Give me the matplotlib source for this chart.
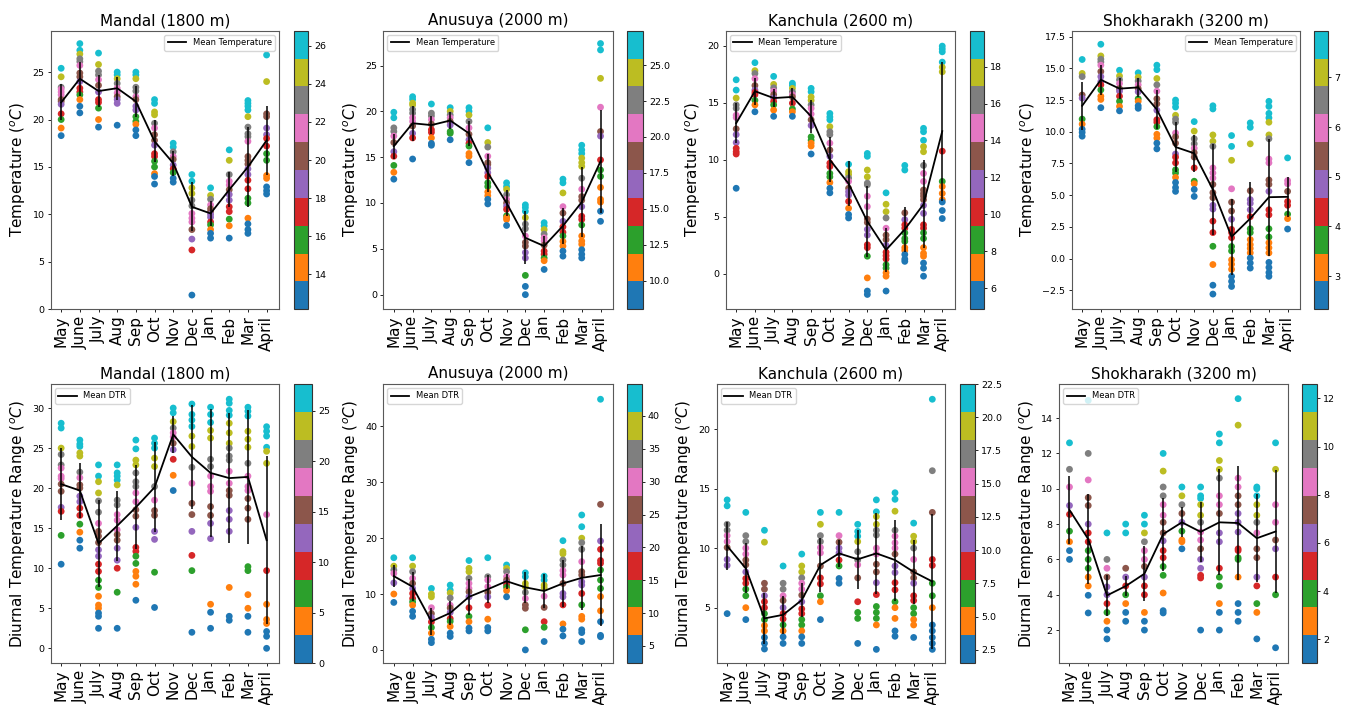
import numpy as np
import matplotlib
matplotlib.use('Agg')
import matplotlib.pyplot as plt
from matplotlib.ticker import MultipleLocator

# ---- data ----
months = ['May', 'June', 'July', 'Aug', 'Sep', 'Oct', 'Nov', 'Dec', 'Jan', 'Feb', 'Mar', 'April']

mandal_temp = [
    [25.4, 24.5, 23.4, 23.2, 22.9, 22.6, 22.1, 21.9, 21.6, 20.6, 20.0, 19.1, 18.3],
    [28.0, 27.3, 26.9, 26.4, 26.1, 25.7, 24.9, 24.5, 24.0, 23.3, 22.9, 22.6, 22.1, 21.4, 20.7],
    [27.0, 25.8, 25.1, 24.7, 24.2, 23.6, 22.9, 22.1, 21.8, 21.2, 20.0, 19.2],
    [25.0, 24.7, 24.3, 23.8, 23.3, 22.8, 22.4, 22.1, 21.7, 19.4],
    [25.0, 24.7, 24.3, 23.4, 23.0, 22.4, 22.1, 21.4, 21.0, 20.3, 19.8, 19.5, 18.9, 18.3],
    [22.1, 21.7, 20.8, 20.5, 19.6, 19.1, 18.4, 17.8, 17.3, 16.4, 16.1, 15.6, 15.0, 14.3, 14.0, 13.2],
    [17.5, 17.1, 16.6, 16.1, 15.8, 15.2, 14.8, 14.4, 13.8, 13.4],
    [14.2, 13.5, 12.8, 12.2, 11.5, 10.9, 10.1, 9.6, 9.2, 8.4, 7.4, 6.25, 1.5],
    [12.8, 12.0, 11.6, 11.0, 10.6, 10.3, 10.0, 9.7, 9.2, 8.9, 8.4, 8.0, 7.5],
    [16.8, 15.7, 14.2, 13.5, 13.1, 12.6, 12.1, 11.5, 10.8, 10.3, 9.5, 8.8, 7.5],
    [22.0, 21.7, 21.4, 21.0, 20.3, 19.2, 18.5, 18.2, 17.7, 16.1, 15.7, 15.3, 14.8, 14.2, 13.6,
     12.7, 11.7, 11.2, 9.6, 9.0, 8.4, 8.0],
    [26.8, 24.0, 20.6, 20.3, 19.1, 18.4, 18.0, 17.2, 16.4, 15.7, 14.1, 13.8, 12.9, 12.5, 12.15],
]
mandal_temp_mean = [21.8, 24.3, 23.0, 23.3, 21.9, 17.7, 15.4, 10.8, 10.1, 12.6, 15.0, 17.8]
mandal_temp_std = [1.9, 1.8, 1.65, 1.2, 1.6, 2.2, 1.3, 2.6, 1.3, 1.85, 4.2, 3.6]

anusuya_temp = [
    [19.9, 19.3, 18.2, 17.8, 17.3, 16.6, 15.6, 15.1, 14.1, 13.35, 12.6],
    [21.6, 21.3, 20.9, 20.7, 20.2, 19.8, 19.3, 18.9, 18.4, 17.6, 17.1, 14.8],
    [20.8, 19.8, 19.5, 19.1, 18.6, 18.0, 17.7, 17.1, 16.5, 16.3],
    [20.4, 20.0, 19.6, 19.3, 18.9, 18.5, 17.8, 17.6, 16.9],
    [20.4, 20.0, 19.6, 18.9, 18.2, 17.5, 16.9, 16.5, 16.2, 15.4, 15.1, 14.4],
    [18.2, 16.6, 16.1, 15.1, 14.4, 14.2, 13.8, 13.3, 12.9, 12.2, 11.8, 11.2, 10.8, 10.4, 9.9],
    [12.2, 11.8, 11.5, 10.9, 10.4, 10.0, 9.65, 9.3, 8.6, 8.4, 8.2, 7.55],
    [9.8, 9.5, 9.1, 8.4, 7.7, 7.2, 6.4, 5.7, 5.3, 4.6, 4.0, 2.1, 0.9, 0.0],
    [7.85, 7.5, 7.1, 6.6, 6.2, 5.85, 5.4, 4.75, 4.4, 4.0, 3.7, 2.75],
    [12.6, 12.2, 11.1, 9.6, 8.9, 8.0, 7.4, 6.8, 6.4, 5.8, 5.3, 4.75, 4.2],
    [16.3, 15.8, 15.4, 14.9, 14.4, 14.0, 12.7, 11.5, 10.7, 10.3, 9.6, 8.55, 8.2, 7.6, 6.4,
     5.85, 5.5, 4.9, 4.4, 4.0],
    [27.4, 26.7, 23.6, 20.45, 17.8, 17.3, 14.7, 13.6, 12.9, 11.7, 10.4, 10.1, 9.1, 8.0],
]
anusuya_temp_mean = [16.2, 18.7, 18.5, 19.0, 17.6, 13.3, 10.0, 6.2, 5.3, 7.5, 10.1, 14.55]
anusuya_temp_std = [1.35, 1.9, 1.0, 0.9, 1.35, 2.1, 1.45, 2.9, 1.1, 2.0, 3.8, 5.6]

kanchula_temp = [
    [17.0, 16.1, 15.4, 14.8, 14.5, 13.9, 13.7, 12.7, 12.2, 11.5, 11.0, 10.7, 10.5, 7.5],
    [18.5, 17.8, 17.55, 17.1, 16.5, 16.1, 15.9, 15.7, 15.2, 14.8, 14.2],
    [17.3, 16.6, 16.3, 16.0, 15.7, 15.4, 15.1, 14.8, 14.35, 13.8],
    [16.7, 16.5, 16.25, 15.95, 15.7, 15.5, 14.95, 14.45, 14.2, 13.8],
    [16.25, 15.95, 15.5, 15.2, 14.8, 14.5, 14.0, 13.5, 13.0, 12.0, 11.7, 11.45, 11.2, 10.5],
    [14.05, 13.75, 13.5, 12.9, 12.45, 12.2, 11.45, 10.85, 10.3, 9.7, 9.4, 8.8, 8.5, 8.0, 7.5, 7.1],
    [9.6, 8.95, 8.7, 8.4, 8.1, 7.5, 7.2, 6.9, 6.35, 5.75, 5.2, 4.9],
    [10.55, 10.3, 9.1, 8.5, 7.95, 7.8, 6.8, 5.9, 4.8, 4.5, 3.9, 3.4, 2.55, 2.3, 1.55, -0.35,
     -1.5, -1.8],
    [7.1, 6.1, 5.45, 4.9, 4.0, 3.4, 3.0, 2.5, 1.9, 1.6, 1.3, 0.8, 0.5, 0.1, -0.2, -1.5],
    [9.5, 9.1, 5.35, 4.75, 4.3, 4.0, 3.6, 3.1, 2.85, 2.3, 2.05, 1.7, 1.3, 1.1],
    [12.75, 12.45, 11.7, 11.15, 10.7, 9.5, 8.8, 8.1, 7.35, 7.05, 6.8, 6.5, 6.0, 5.3, 4.3, 4.0,
     3.6, 3.1, 2.3, 1.8, 1.55, 0.95, 0.5, -0.2],
    [19.95, 19.7, 19.45, 18.55, 18.1, 17.7, 10.75, 8.1, 7.65, 7.05, 6.5, 6.3, 5.55, 4.85],
]
kanchula_temp_mean = [13.2, 16.0, 15.4, 15.5, 13.8, 10.0, 7.9, 4.6, 2.1, 3.9, 6.1, 12.5]
kanchula_temp_std = [1.75, 1.2, 0.8, 0.75, 1.45, 1.95, 1.95, 3.1, 1.9, 2.0, 3.85, 6.1]

shokharakh_temp = [
    [15.7, 14.6, 14.35, 12.9, 12.65, 11.0, 10.6, 10.2, 9.95, 9.65],
    [16.9, 15.98, 15.72, 15.5, 15.25, 14.75, 14.35, 13.95, 13.7, 13.3, 12.8, 12.55, 11.9],
    [14.85, 14.4, 14.1, 13.8, 13.4, 13.2, 12.8, 12.4, 12.0, 11.65],
    [14.65, 14.3, 14.0, 13.7, 13.4, 13.15, 12.6, 12.4, 12.05, 11.85],
    [15.25, 14.9, 14.2, 13.7, 13.2, 12.6, 12.2, 11.7, 10.95, 10.75, 10.4, 9.8, 9.5, 9.1, 8.65],
    [12.5, 12.25, 11.95, 11.3, 11.0, 10.75, 9.9, 9.6, 9.1, 8.25, 8.0, 7.55, 7.0, 6.75, 6.4,
     6.0, 5.6, 5.3],
    [10.8, 10.05, 9.45, 9.05, 8.7, 8.35, 8.0, 7.15, 6.1, 5.9, 5.45, 4.9],
    [12.05, 11.8, 9.75, 9.25, 8.85, 7.15, 6.75, 6.35, 5.85, 5.2, 4.8, 4.2, 3.9, 2.95, 2.05,
     0.97, -0.47, -2.1, -2.8],
    [9.7, 8.85, 7.75, 5.5, 4.45, 3.75, 3.1, 2.3, 2.05, 1.65, 0.95, 0.6, -0.1, -0.45, -0.85,
     -1.4, -1.8, -2.2],
    [10.7, 10.35, 9.05, 5.35, 4.65, 4.35, 3.85, 3.3, 2.35, 2.05, 1.5, 1.1, 0.8, 0.45, 0.05,
     -0.35, -0.75],
    [12.4, 12.0, 11.45, 11.1, 10.75, 9.75, 9.45, 7.85, 7.55, 6.2, 5.85, 5.3, 3.85, 3.45, 2.35,
     1.7, 1.25, 0.85, 0.45, -0.3, -0.7, -1.1, -1.4],
    [7.94, 6.15, 5.9, 5.3, 4.5, 4.2, 3.5, 3.15, 2.33],
]
shokharakh_temp_mean = [12.05, 14.1, 13.4, 13.5, 11.75, 8.8, 8.3, 5.44, 1.72, 3.16, 4.84, 4.87]
shokharakh_temp_std = [1.9, 1.2, 0.85, 0.75, 1.55, 1.95, 1.45, 3.6, 3.0, 2.85, 4.6, 1.6]

mandal_dtr = [
    [28.1, 27.5, 25.0, 24.2, 22.9, 22.5, 21.5, 21.2, 20.5, 19.6, 17.6, 17.1, 14.1, 10.5],
    [26.0, 25.5, 25.2, 24.4, 24.0, 22.0, 21.3, 20.4, 20.0, 19.0, 18.3, 17.5, 16.6, 15.5, 14.5,
     13.5, 12.5],
    [22.9, 21.5, 20.8, 19.4, 18.4, 17.0, 15.6, 14.6, 14.0, 13.2, 12.3, 11.5, 10.5, 9.6, 8.5,
     7.6, 6.5, 5.4, 5.0, 4.4, 4.0, 2.5],
    [22.9, 21.9, 21.5, 21.0, 20.4, 18.5, 17.9, 16.7, 16.0, 14.8, 14.2, 13.5, 12.5, 11.0, 10.0,
     7.0, 2.5],
    [26.0, 24.9, 23.5, 22.9, 21.9, 20.8, 20.2, 19.4, 18.3, 17.3, 16.5, 15.1, 12.6, 12.1, 11.5,
     10.6, 9.6, 9.0, 8.0, 6.0],
    [26.25, 25.6, 25.0, 23.75, 22.7, 20.2, 18.5, 17.2, 16.6, 14.6, 13.6, 9.5, 5.1],
    [30.0, 29.4, 28.3, 27.5, 26.9, 26.4, 25.6, 24.8, 23.6, 21.6, 19.7],
    [30.5, 29.2, 28.5, 27.7, 26.5, 25.2, 22.6, 20.6, 18.1, 16.7, 14.6, 11.6, 9.7, 2.0],
    [30.1, 29.2, 28.2, 27.2, 26.25, 23.6, 22.7, 21.5, 20.2, 19.6, 17.7, 16.6, 15.6, 13.7, 5.5,
     4.5, 2.5],
    [31.1, 30.6, 29.7, 29.1, 28.1, 26.9, 25.6, 25.0, 24.0, 23.5, 22.1, 20.6, 19.7, 19.1, 17.2,
     16.1, 14.6, 7.6, 4.0, 3.5],
    [30.1, 29.6, 29.0, 27.1, 26.1, 25.1, 23.1, 21.5, 20.2, 19.7, 18.7, 17.5, 16.1, 10.2, 9.7,
     6.7, 5.0, 4.0, 2.0],
    [27.67, 27.1, 26.5, 25.1, 24.6, 23.1, 16.7, 9.7, 5.5, 3.6, 3.1, 2.1, 1.5, 0.0],
]
mandal_dtr_mean = [20.5, 19.7, 13.1, 15.3, 17.6, 20.1, 26.7, 23.9, 21.9, 21.25, 21.4, 13.5]
mandal_dtr_std = [4.5, 3.4, 5.45, 4.35, 5.25, 5.6, 2.3, 6.5, 8.0, 8.1, 8.35, 10.5]

anusuya_dtr = [
    [16.5, 15.0, 14.3, 13.7, 12.0, 10.0, 8.5],
    [16.5, 15.0, 14.0, 12.8, 11.9, 11.0, 10.1, 9.2, 8.6, 8.0, 6.9, 6.0],
    [11.0, 10.0, 9.5, 7.55, 6.5, 5.8, 5.0, 4.0, 3.0, 1.9, 1.3],
    [11.6, 10.7, 10.2, 9.3, 8.0, 7.5, 6.7, 5.6, 5.1, 4.2, 3.0, 2.4],
    [16.0, 14.6, 14.0, 12.8, 11.9, 11.0, 10.4, 9.5, 7.55, 6.0, 5.05, 3.9, 3.4],
    [16.5, 13.1, 12.5, 11.3, 10.3, 9.5, 8.0, 5.5, 4.0, 3.4],
    [15.2, 14.6, 14.0, 13.1, 12.5, 12.0, 11.6, 11.2, 10.6, 9.5],
    [13.8, 13.1, 11.9, 11.3, 10.3, 9.2, 8.05, 7.45, 3.6, 0.0],
    [13.2, 12.5, 11.6, 11.15, 9.6, 7.6, 5.05, 4.05, 1.5],
    [19.55, 17.6, 17.2, 16.1, 15.2, 14.2, 13.4, 11.9, 10.1, 9.5, 8.05, 4.65, 3.7, 2.5],
    [24.15, 22.05, 20.0, 19.2, 18.0, 15.8, 14.0, 13.4, 12.2, 11.6, 10.1, 8.05, 6.0, 5.5, 3.6,
     3.1, 1.5],
    [44.87, 26.05, 19.5, 18.0, 16.0, 15.5, 14.3, 12.5, 11.0, 9.55, 7.0, 5.05, 2.6, 2.36],
]
anusuya_dtr_mean = [13.2, 11.3, 5.1, 6.6, 9.5, 10.85, 12.3, 11.2, 10.55, 11.9, 12.9, 13.4]
anusuya_dtr_std = [2.0, 2.6, 2.45, 2.2, 3.2, 2.5, 1.35, 2.8, 3.0, 4.2, 5.7, 9.1]

kanchula_dtr = [
    [14.05, 13.55, 12.0, 11.5, 11.05, 10.55, 10.05, 9.05, 8.55, 4.5],
    [13.0, 11.05, 10.55, 10.0, 9.5, 9.0, 8.6, 8.0, 7.45, 7.05, 6.55, 6.0, 5.0, 4.0],
    [11.5, 10.5, 7.05, 6.55, 6.0, 5.5, 5.0, 4.5, 4.0, 3.5, 3.05, 2.5, 2.0, 1.53],
    [8.5, 7.05, 6.55, 6.0, 5.6, 5.0, 4.5, 4.05, 3.55, 3.05, 2.55, 2.0],
    [9.5, 8.5, 8.0, 7.5, 7.05, 6.55, 6.05, 5.5, 4.9, 4.5, 4.0, 3.55, 3.05, 2.55, 2.0],
    [13.0, 12.0, 11.05, 10.55, 10.05, 9.6, 8.5, 7.5, 7.0, 6.0, 5.5, 4.0],
    [13.0, 11.05, 10.5, 10.0, 9.6, 9.0, 8.5, 7.45, 7.05],
    [12.0, 11.4, 11.0, 10.55, 9.7, 9.0, 8.6, 7.5, 5.5, 4.6, 4.1, 2.0],
    [14.05, 13.05, 12.65, 12.0, 11.5, 11.1, 10.0, 9.5, 8.65, 8.0, 7.1, 6.1, 5.1, 4.6, 4.1,
     3.55, 1.5],
    [14.65, 14.1, 13.1, 11.5, 11.0, 10.45, 10.0, 9.5, 8.5, 7.95, 7.1, 6.5, 5.5, 5.0, 4.1,
     3.05, 2.6],
    [12.1, 11.0, 10.55, 10.0, 9.05, 8.0, 7.5, 7.05, 6.0, 5.6, 5.0, 4.5, 4.0, 3.55, 2.5],
    [22.5, 16.5, 13.0, 9.05, 8.55, 7.05, 6.0, 5.0, 3.55, 3.05, 2.5, 2.0, 1.5],
]
kanchula_dtr_mean = [10.18, 8.3, 4.1, 4.4, 5.64, 8.58, 9.56, 9.06, 9.56, 9.0, 8.0, 7.2]
kanchula_dtr_std = [2.0, 2.1, 2.17, 1.6, 1.43, 2.3, 1.12, 2.5, 3.4, 3.4, 2.7, 5.7]

shokharakh_dtr = [
    [12.6, 11.1, 10.1, 9.05, 8.55, 7.6, 7.0, 6.5, 6.0],
    [15.0, 12.0, 10.5, 9.5, 9.05, 8.0, 7.5, 7.0, 6.5, 6.0, 5.5, 5.0, 4.5, 3.97, 2.97],
    [7.5, 6.0, 5.5, 5.0, 4.45, 4.0, 3.5, 3.0, 2.5, 2.0, 1.5],
    [8.0, 7.5, 5.5, 5.0, 4.5, 4.0, 3.5, 3.0, 2.5],
    [8.5, 8.0, 7.5, 7.0, 6.5, 6.0, 5.6, 5.0, 4.5, 4.0, 3.0, 2.5, 2.0],
    [12.0, 11.0, 10.1, 9.6, 9.1, 8.5, 8.1, 7.5, 7.05, 6.5, 6.1, 5.6, 5.1, 4.1, 3.1, 2.97],
    [10.1, 9.6, 9.1, 8.6, 8.1, 7.6, 7.1, 7.0, 6.6],
    [10.1, 9.6, 9.45, 9.1, 8.5, 8.1, 7.55, 7.1, 6.6, 6.0, 5.5, 5.1, 4.95, 2.0],
    [13.1, 12.6, 11.6, 11.1, 10.6, 9.6, 9.1, 8.6, 7.5, 7.0, 5.5, 5.0, 4.5, 3.5, 3.0, 2.0],
    [15.1, 13.6, 10.6, 10.1, 9.6, 9.1, 8.6, 8.1, 7.55, 6.6, 6.5, 6.1, 6.0, 5.0, 3.5, 3.0, 2.5],
    [10.1, 10.0, 9.6, 9.1, 8.5, 8.1, 7.5, 6.6, 6.1, 5.0, 4.5, 3.5, 3.0, 1.5],
    [12.6, 11.1, 9.1, 8.1, 7.1, 6.6, 5.0, 4.0, 1.0],
]
shokharakh_dtr_mean = [8.8, 7.15, 3.96, 4.49, 5.19, 7.43, 8.1, 7.56, 8.1, 8.06, 7.2, 7.58]
shokharakh_dtr_std = [1.95, 2.55, 1.14, 0.57, 1.57, 2.06, 0.85, 1.7, 3.0, 3.23, 2.5, 3.5]

# ---- figure ----
W, H = 1346, 705
fig = plt.figure(figsize=(W / 100, H / 100), dpi=100)


def box(x0, x1, top, bot):
    # pixel box -> figure fraction
    return [x0 / W, 1 - bot / H, (x1 - x0) / W, (bot - top) / H]


TEMP_LBL = 'Temperature ($^oC$)'
DTR_LBL = 'Diurnal Temperature Range ($^oC$)'

panels = [
    # axes box, colorbar box, title, points, mean, std, ylabel, legend, loc, ylim, ystep, cbstep
    (box(50.7, 279.3, 30.7, 309.3), box(294, 308.3, 30.7, 309.3), 'Mandal (1800 m)',
     mandal_temp, mandal_temp_mean, mandal_temp_std, TEMP_LBL, 'Mean Temperature',
     'upper right', (0.0, 29.36), 5, 2),
    (box(383.3, 613.3, 30.7, 309.3), box(626.7, 642.7, 30.7, 309.3), 'Anusuya (2000 m)',
     anusuya_temp, anusuya_temp_mean, anusuya_temp_std, TEMP_LBL, 'Mean Temperature',
     'upper left', (-1.6, 28.8), 5, 2.5),
    (box(725.7, 955, 30.7, 309.3), box(970, 984, 30.7, 309.3), 'Kanchula (2600 m)',
     kanchula_temp, kanchula_temp_mean, kanchula_temp_std, TEMP_LBL, 'Mean Temperature',
     'upper left', (-3.1, 21.3), 5, 2),
    (box(1071.7, 1300.3, 30.7, 309.3), box(1314.3, 1328.3, 30.7, 309.3), 'Shokharakh (3200 m)',
     shokharakh_temp, shokharakh_temp_mean, shokharakh_temp_std, TEMP_LBL, 'Mean Temperature',
     'upper right', (-4.0, 17.97), 2.5, 1),
    (box(50.7, 279.3, 384, 663.3), box(294, 311.7, 384, 663.3), 'Mandal (1800 m)',
     mandal_dtr, mandal_dtr_mean, mandal_dtr_std, DTR_LBL, 'Mean DTR',
     'upper left', (-1.87, 33.0), 5, 5),
    (box(383.3, 613.3, 384, 663.3), box(627.3, 641.7, 384, 663.3), 'Anusuya (2000 m)',
     anusuya_dtr, anusuya_dtr_mean, anusuya_dtr_std, DTR_LBL, 'Mean DTR',
     'upper left', (-2.4, 47.6), 10, 5),
    (box(716.7, 945, 384, 663.3), box(960, 975, 384, 663.3), 'Kanchula (2600 m)',
     kanchula_dtr, kanchula_dtr_mean, kanchula_dtr_std, DTR_LBL, 'Mean DTR',
     'upper left', (0.33, 23.78), 5, 2.5),
    (box(1059, 1288.3, 384, 663.3), box(1302.3, 1316.7, 384, 663.3), 'Shokharakh (3200 m)',
     shokharakh_dtr, shokharakh_dtr_mean, shokharakh_dtr_std, DTR_LBL, 'Mean DTR',
     'upper left', (0.12, 15.93), 2, 2),
]

x = np.arange(len(months))
for (abox, cbox, title, pts, mean, std, ylabel, lab, loc, ylim, ystep, cstep) in panels:
    ax = fig.add_axes(abox)
    cax = fig.add_axes(cbox)

    # each month is coloured on its own scale, colorbar keeps the last one (April)
    for i, vals in enumerate(pts):
        sc = ax.scatter(np.full(len(vals), x[i]), vals, c=vals, cmap='tab10',
                        s=24, linewidths=0)
    ax.plot(x, mean, color='k', lw=1.3, label=lab)
    ax.errorbar(x, mean, yerr=std, fmt='none', ecolor='k', elinewidth=1.1)

    ax.set_xlim(-0.56, 11.68)
    ax.set_ylim(*ylim)
    ax.yaxis.set_major_locator(MultipleLocator(ystep))
    ax.set_xticks(x)
    ax.set_xticklabels(months, rotation=90, fontsize=11)
    ax.tick_params(axis='y', labelsize=6.8, length=2.5, width=0.6, pad=2)
    ax.tick_params(axis='x', length=2.5, width=0.6, pad=2)
    ax.set_title(title, fontsize=11, pad=4)
    ax.set_ylabel(ylabel, fontsize=11, labelpad=3)
    for sp in ax.spines.values():
        sp.set_color('0.35')
        sp.set_linewidth(0.8)
    ax.legend(loc=loc, fontsize=6, handlelength=2.2, borderpad=0.4)

    cb = fig.colorbar(sc, cax=cax)
    cb.locator = MultipleLocator(cstep)
    cb.update_ticks()
    cb.ax.tick_params(labelsize=6.8, length=2.5, width=0.6, pad=2)
    cb.outline.set_edgecolor('0.2')
    cb.outline.set_linewidth(0.8)

fig.savefig('out.png', dpi=100)
